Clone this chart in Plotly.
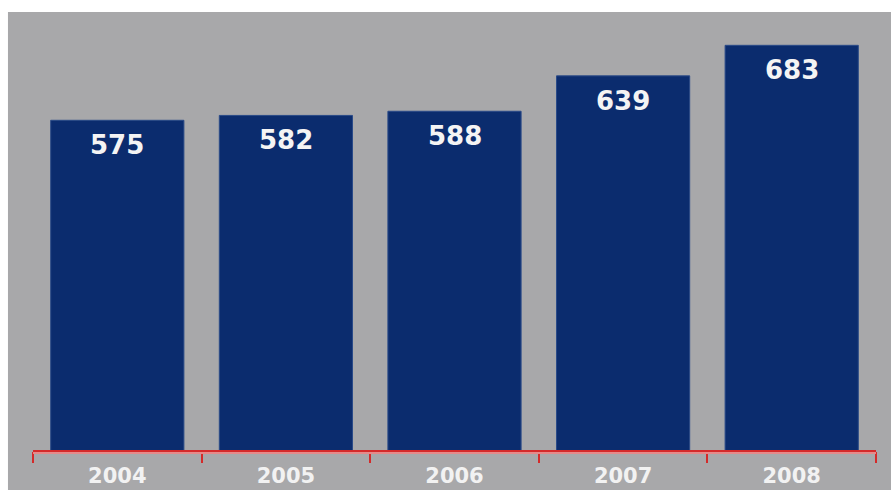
import plotly.graph_objects as go

years = ["2004", "2005", "2006", "2007", "2008"]
values = [575, 582, 588, 639, 683]

BAR = "#0b2c6e"
GRAY = "#a8a8aa"
RED = "#d42a2a"

fig = go.Figure(
    go.Bar(
        x=years,
        y=values,
        marker=dict(color=BAR, line=dict(color="#2a4a88", width=1)),
        width=0.79,
        hoverinfo="skip",
    )
)

# value labels near the top of each bar (category index positions)
for i, v in enumerate(values):
    fig.add_annotation(
        x=i, y=v, xref="x", yref="y",
        text=f"<b>{v}</b>", showarrow=False,
        yanchor="top", yshift=-8,
        font=dict(family="DejaVu Sans", size=26, color="#f4f4f4"),
    )

# gray panel behind the plot
fig.add_shape(
    type="rect", xref="paper", yref="paper",
    x0=-0.0297, x1=1.02, y0=-0.1, y1=1.0,
    fillcolor=GRAY, line=dict(width=0), layer="below",
)
# soft pink band just under the red baseline
fig.add_shape(
    type="line", xref="paper", yref="paper",
    x0=0, x1=1, y0=-0.0068, y1=-0.0068,
    line=dict(color="#e58a8a", width=2),
)

fig.update_layout(
    width=891, height=490,
    margin=dict(l=33, r=15, t=12, b=40),
    paper_bgcolor="white",
    plot_bgcolor=GRAY,
    showlegend=False,
)
fig.update_xaxes(
    type="category",
    range=[-0.5, 4.5],
    automargin=False,
    showline=True, linecolor=RED, linewidth=2,
    ticks="outside", tickson="boundaries", ticklen=11, tickwidth=2, tickcolor=RED,
    tickfont=dict(family="DejaVu Sans", size=21, color="#f2f2f2"),
    tickprefix="<b>", ticksuffix="</b>",
    ticklabelstandoff=6,
    showgrid=False, zeroline=False,
)
fig.update_yaxes(
    range=[100, 731],
    automargin=False,
    showticklabels=False, ticks="", showline=False,
    showgrid=False, zeroline=False,
)

fig.write_html("out.html")
